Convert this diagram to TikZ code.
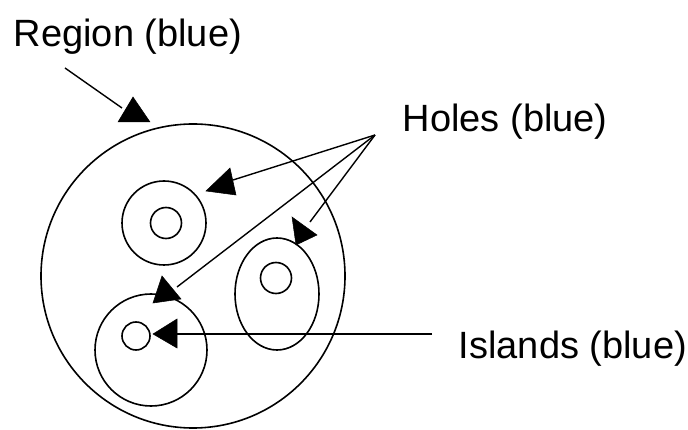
\documentclass[tikz,border=0pt]{standalone}
\usepackage{fontspec}
\setmainfont{Liberation Sans}
\usetikzlibrary{shapes.geometric}
\begin{document}
\begin{tikzpicture}[x=1pt,y=-1pt,line width=1.5pt,
  lbl/.style={anchor=base west,inner sep=0pt,font=\fontsize{38}{40}\selectfont},
  shp/.style={draw,line width=1.6pt},
  head/.style={fill=black,draw=black,line width=0.5pt,line join=miter},
  conn/.style={draw,line width=1.4pt}]
\useasboundingbox (0,0) rectangle (688,430);
% shapes
\node[shp,circle,minimum size=304pt,inner sep=0pt] (region) at (193,276) {};
\node[shp,circle,minimum size=84pt,inner sep=0pt] (holeA) at (164,223) {};
\node[shp,circle,minimum size=31pt,inner sep=0pt] (islA) at (166,223) {};
\node[shp,ellipse,minimum width=84pt,minimum height=112pt,inner sep=0pt] (holeB) at (277,294) {};
\node[shp,circle,minimum size=31pt,inner sep=0pt] (islB) at (276,278) {};
\node[shp,circle,minimum size=112pt,inner sep=0pt] (holeC) at (151,350) {};
\node[shp,circle,minimum size=28pt,inner sep=0pt] (islC) at (136,336) {};
% labels
\node[lbl] (tregion) at (13,47) {Region (blue)};
\node[lbl] (tholes) at (402,132) {Holes (blue)};
\node[lbl] (tislands) at (458,358) {Islands (blue)};
% connector end points
\coordinate (rs) at (65,68);
\coordinate (re) at (122,108);
\coordinate (ho) at (375,135);
\coordinate (hA) at (233,180);
\coordinate (hB) at (310,222);
\coordinate (hC) at (177,287);
\coordinate (is) at (432,334);
\coordinate (ie) at (160,334);
% connectors
\draw[conn] (rs) -- (re);
\draw[conn] (ho) -- (hA);
\draw[conn] (ho) -- (hB);
\draw[conn] (ho) -- (hC);
\draw[conn] (is) -- (ie);
% arrow heads
\fill[head] (133,97) -- (118,122) -- (150,122) -- cycle;
\fill[head] (206,191) -- (230,168) -- (236,195) -- cycle;
\fill[head] (292,217) -- (317,235) -- (296,245) -- cycle;
\fill[head] (162,276) -- (153,303) -- (181,299) -- cycle;
\fill[head] (153,334) -- (177,319) -- (177,348) -- cycle;
\end{tikzpicture}
\end{document}
